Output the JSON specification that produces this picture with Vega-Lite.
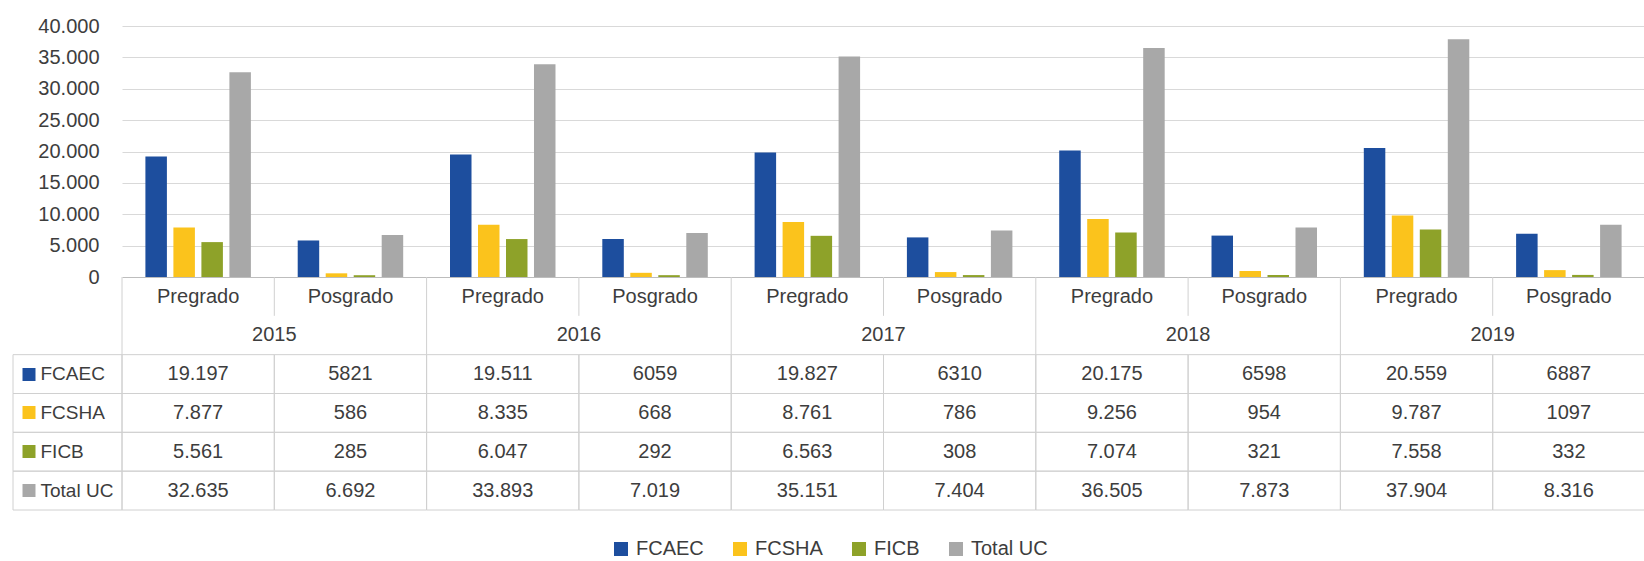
{
  "$schema": "https://vega.github.io/schema/vega-lite/v6.json",
  "padding": {"top": 16, "left": 12, "right": 0, "bottom": 0},
  "datasets": {
    "d": [
      {"year": "2015", "level": "Pregrado", "cat": "2015 Pregrado", "series": "FCAEC", "value": 19197},
      {"year": "2015", "level": "Pregrado", "cat": "2015 Pregrado", "series": "FCSHA", "value": 7877},
      {"year": "2015", "level": "Pregrado", "cat": "2015 Pregrado", "series": "FICB", "value": 5561},
      {"year": "2015", "level": "Pregrado", "cat": "2015 Pregrado", "series": "Total UC", "value": 32635},
      {"year": "2015", "level": "Posgrado", "cat": "2015 Posgrado", "series": "FCAEC", "value": 5821},
      {"year": "2015", "level": "Posgrado", "cat": "2015 Posgrado", "series": "FCSHA", "value": 586},
      {"year": "2015", "level": "Posgrado", "cat": "2015 Posgrado", "series": "FICB", "value": 285},
      {"year": "2015", "level": "Posgrado", "cat": "2015 Posgrado", "series": "Total UC", "value": 6692},
      {"year": "2016", "level": "Pregrado", "cat": "2016 Pregrado", "series": "FCAEC", "value": 19511},
      {"year": "2016", "level": "Pregrado", "cat": "2016 Pregrado", "series": "FCSHA", "value": 8335},
      {"year": "2016", "level": "Pregrado", "cat": "2016 Pregrado", "series": "FICB", "value": 6047},
      {"year": "2016", "level": "Pregrado", "cat": "2016 Pregrado", "series": "Total UC", "value": 33893},
      {"year": "2016", "level": "Posgrado", "cat": "2016 Posgrado", "series": "FCAEC", "value": 6059},
      {"year": "2016", "level": "Posgrado", "cat": "2016 Posgrado", "series": "FCSHA", "value": 668},
      {"year": "2016", "level": "Posgrado", "cat": "2016 Posgrado", "series": "FICB", "value": 292},
      {"year": "2016", "level": "Posgrado", "cat": "2016 Posgrado", "series": "Total UC", "value": 7019},
      {"year": "2017", "level": "Pregrado", "cat": "2017 Pregrado", "series": "FCAEC", "value": 19827},
      {"year": "2017", "level": "Pregrado", "cat": "2017 Pregrado", "series": "FCSHA", "value": 8761},
      {"year": "2017", "level": "Pregrado", "cat": "2017 Pregrado", "series": "FICB", "value": 6563},
      {"year": "2017", "level": "Pregrado", "cat": "2017 Pregrado", "series": "Total UC", "value": 35151},
      {"year": "2017", "level": "Posgrado", "cat": "2017 Posgrado", "series": "FCAEC", "value": 6310},
      {"year": "2017", "level": "Posgrado", "cat": "2017 Posgrado", "series": "FCSHA", "value": 786},
      {"year": "2017", "level": "Posgrado", "cat": "2017 Posgrado", "series": "FICB", "value": 308},
      {"year": "2017", "level": "Posgrado", "cat": "2017 Posgrado", "series": "Total UC", "value": 7404},
      {"year": "2018", "level": "Pregrado", "cat": "2018 Pregrado", "series": "FCAEC", "value": 20175},
      {"year": "2018", "level": "Pregrado", "cat": "2018 Pregrado", "series": "FCSHA", "value": 9256},
      {"year": "2018", "level": "Pregrado", "cat": "2018 Pregrado", "series": "FICB", "value": 7074},
      {"year": "2018", "level": "Pregrado", "cat": "2018 Pregrado", "series": "Total UC", "value": 36505},
      {"year": "2018", "level": "Posgrado", "cat": "2018 Posgrado", "series": "FCAEC", "value": 6598},
      {"year": "2018", "level": "Posgrado", "cat": "2018 Posgrado", "series": "FCSHA", "value": 954},
      {"year": "2018", "level": "Posgrado", "cat": "2018 Posgrado", "series": "FICB", "value": 321},
      {"year": "2018", "level": "Posgrado", "cat": "2018 Posgrado", "series": "Total UC", "value": 7873},
      {"year": "2019", "level": "Pregrado", "cat": "2019 Pregrado", "series": "FCAEC", "value": 20559},
      {"year": "2019", "level": "Pregrado", "cat": "2019 Pregrado", "series": "FCSHA", "value": 9787},
      {"year": "2019", "level": "Pregrado", "cat": "2019 Pregrado", "series": "FICB", "value": 7558},
      {"year": "2019", "level": "Pregrado", "cat": "2019 Pregrado", "series": "Total UC", "value": 37904},
      {"year": "2019", "level": "Posgrado", "cat": "2019 Posgrado", "series": "FCAEC", "value": 6887},
      {"year": "2019", "level": "Posgrado", "cat": "2019 Posgrado", "series": "FCSHA", "value": 1097},
      {"year": "2019", "level": "Posgrado", "cat": "2019 Posgrado", "series": "FICB", "value": 332},
      {"year": "2019", "level": "Posgrado", "cat": "2019 Posgrado", "series": "Total UC", "value": 8316}
    ]
  },
  "config": {
    "locale": {"number": {"decimal": ",", "thousands": ".", "grouping": [3], "currency": ["", " €"]}},
    "view": {"stroke": null},
    "font": "Liberation Sans, Arial, sans-serif",
    "text": {"font": "Liberation Sans, Arial, sans-serif", "fontSize": 20, "fill": "#3d3d3d"},
    "legend": {
      "orient": "bottom",
      "direction": "horizontal",
      "offset": 28,
      "layout": {"bottom": {"anchor": "middle"}},
      "labelFont": "Liberation Sans, Arial, sans-serif",
      "labelFontSize": 20,
      "labelColor": "#3d3d3d",
      "symbolType": "square",
      "symbolSize": 196,
      "symbolStrokeWidth": 0,
      "columnPadding": 26,
      "labelOffset": 5
    }
  },
  "bounds": "flush",
  "columns": 2,
  "spacing": 0,
  "concat": [
    {
      "width": 109,
      "height": 251,
      "data": {"name": "d"},
      "mark": {"type": "rule", "opacity": 0},
      "encoding": {
        "y": {
          "field": "value",
          "type": "quantitative",
          "scale": {"domain": [0, 40000]},
          "axis": {
            "orient": "left",
            "offset": -109,
            "title": null,
            "grid": false,
            "domain": false,
            "ticks": false,
            "labelPadding": 23,
            "labelFontSize": 20,
            "labelColor": "#3d3d3d",
            "labelFont": "Liberation Sans, Arial, sans-serif",
            "format": ",d",
            "values": [0, 5000, 10000, 15000, 20000, 25000, 30000, 35000, 40000]
          }
        }
      }
    },
    {
      "width": 1523,
      "height": 251,
      "data": {"name": "d"},
      "mark": {"type": "bar"},
      "encoding": {
        "x": {
          "field": "cat",
          "type": "nominal",
          "scale": {"domain": ["2015 Pregrado", "2015 Posgrado", "2016 Pregrado", "2016 Posgrado", "2017 Pregrado", "2017 Posgrado", "2018 Pregrado", "2018 Posgrado", "2019 Pregrado", "2019 Posgrado"], "paddingInner": 0, "paddingOuter": 0},
          "axis": null
        },
        "xOffset": {
          "field": "series",
          "type": "nominal",
          "scale": {"domain": ["FCAEC", "FCSHA", "FICB", "Total UC"], "paddingInner": 0.232, "paddingOuter": 0.836}
        },
        "y": {
          "field": "value",
          "type": "quantitative",
          "scale": {"domain": [0, 40000]},
          "axis": {
            "title": null,
            "labels": false,
            "ticks": false,
            "domain": false,
            "grid": true,
            "gridColor": {"condition": {"test": "datum.value === 0", "value": "#bdbdbd"}, "value": "#d9d9d9"},
            "maxExtent": 0,
            "values": [0, 5000, 10000, 15000, 20000, 25000, 30000, 35000, 40000]
          }
        },
        "color": {
          "field": "series",
          "type": "nominal",
          "scale": {"domain": ["FCAEC", "FCSHA", "FICB", "Total UC"], "range": ["#1d4e9e", "#fbc31c", "#8ea229", "#a8a8a8"]},
          "legend": {"title": null}
        }
      }
    },
    {
      "width": 109,
      "height": 233,
      "data": {"name": "d"},
      "transform": [{"filter": "datum.cat === '2015 Pregrado'"}],
      "mark": {"type": "rect", "fillOpacity": 0, "stroke": "#d0d0d0", "strokeWidth": 1},
      "encoding": {
        "y": {
          "field": "series",
          "type": "nominal",
          "scale": {"domain": ["nivel", "año", "FCAEC", "FCSHA", "FICB", "Total UC"], "paddingInner": 0, "paddingOuter": 0},
          "axis": {
            "orient": "left",
            "offset": -22,
            "title": null,
            "grid": false,
            "domain": false,
            "tickSize": 13,
            "tickWidth": 13,
            "tickColor": {
              "condition": [
                {"test": "datum.value === 'FCAEC'", "value": "#1d4e9e"},
                {"test": "datum.value === 'FCSHA'", "value": "#fbc31c"},
                {"test": "datum.value === 'FICB'", "value": "#8ea229"},
                {"test": "datum.value === 'Total UC'", "value": "#a8a8a8"}
              ],
              "value": "transparent"
            },
            "labelAlign": "left",
            "labelPadding": -18,
            "labelExpr": "datum.value === 'nivel' || datum.value === 'año' ? '' : datum.value",
            "labelFontSize": 19,
            "labelColor": "#3d3d3d",
            "labelFont": "Liberation Sans, Arial, sans-serif"
          }
        }
      }
    },
    {
      "width": 1523,
      "height": 233,
      "data": {"name": "d"},
      "encoding": {
        "x": {
          "field": "cat",
          "type": "nominal",
          "scale": {"domain": ["2015 Pregrado", "2015 Posgrado", "2016 Pregrado", "2016 Posgrado", "2017 Pregrado", "2017 Posgrado", "2018 Pregrado", "2018 Posgrado", "2019 Pregrado", "2019 Posgrado"], "paddingInner": 0, "paddingOuter": 0},
          "axis": null
        }
      },
      "layer": [
        {
          "mark": {"type": "rect", "fillOpacity": 0, "stroke": "#d0d0d0", "strokeWidth": 1},
          "encoding": {
            "y": {
              "field": "series",
              "type": "nominal",
              "scale": {"domain": ["nivel", "año", "FCAEC", "FCSHA", "FICB", "Total UC"], "paddingInner": 0, "paddingOuter": 0},
              "axis": null
            }
          }
        },
        {
          "mark": {"type": "text", "baseline": "middle", "align": "center"},
          "encoding": {
            "y": {"field": "series", "type": "nominal"},
            "text": {
              "condition": {"test": "datum.level === 'Posgrado' && datum.series !== 'Total UC'", "field": "value", "type": "quantitative", "format": "d"},
              "field": "value",
              "type": "quantitative",
              "format": ",d"
            }
          }
        },
        {
          "transform": [{"filter": "datum.series === 'FCAEC'"}],
          "mark": {"type": "text", "baseline": "middle", "align": "center", "dy": 1},
          "encoding": {
            "y": {"datum": "nivel", "type": "nominal"},
            "text": {"field": "level", "type": "nominal"}
          }
        },
        {
          "transform": [{"filter": "datum.series === 'FCAEC' && datum.level === 'Pregrado'"}],
          "mark": {"type": "text", "baseline": "middle", "align": "center"},
          "encoding": {
            "x": {"field": "cat", "type": "nominal", "bandPosition": 1},
            "y": {"datum": "año", "type": "nominal"},
            "text": {"field": "year", "type": "nominal"}
          }
        },
        {
          "transform": [{"filter": "datum.series === 'FCAEC' && datum.level === 'Pregrado'"}],
          "mark": {"type": "rule", "stroke": "#d0d0d0", "strokeWidth": 1},
          "encoding": {
            "x": {"field": "cat", "type": "nominal", "bandPosition": 0},
            "y": {"datum": "nivel", "type": "nominal", "bandPosition": 0},
            "y2": {"datum": "FCAEC", "bandPosition": 0}
          }
        },
        {
          "transform": [{"filter": "datum.series === 'FCAEC' && datum.level === 'Posgrado'"}],
          "mark": {"type": "rule", "stroke": "#d0d0d0", "strokeWidth": 1},
          "encoding": {
            "x": {"field": "cat", "type": "nominal", "bandPosition": 0},
            "y": {"datum": "nivel", "type": "nominal", "bandPosition": 0},
            "y2": {"datum": "año", "bandPosition": 0}
          }
        }
      ]
    }
  ]
}
